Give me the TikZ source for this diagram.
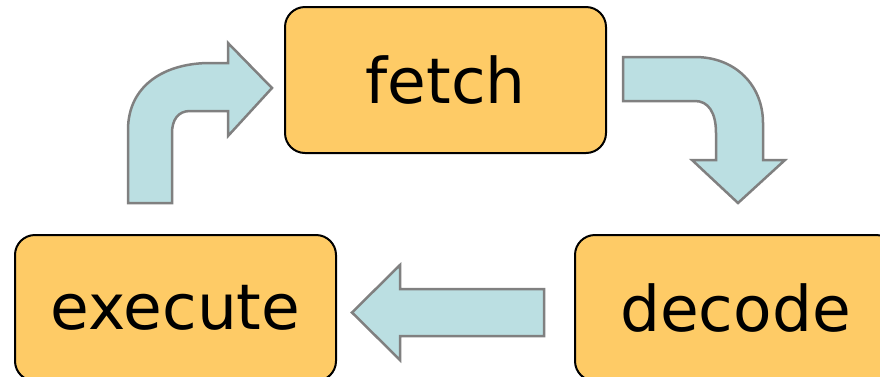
\documentclass[tikz,border=0pt]{standalone}
\usepackage{fontspec}
\setmainfont{DejaVu Sans}
\usetikzlibrary{positioning}

\definecolor{stagefill}{HTML}{FECB66}
\definecolor{flowfill}{HTML}{BBDFE2}
\definecolor{flowline}{HTML}{808080}

\tikzset{
    stage/.style={rectangle, rounded corners = 20, draw = black, line width = 2,
        fill = stagefill, minimum width = 321, minimum height = 146, inner sep = 0,
        font = \fontsize{63}{63}\selectfont},
    flow/.style={fill = flowfill, draw = flowline, line width = 2.5, line join = miter},
}

\begin{document}
\begin{tikzpicture}[
    x = 1pt, y = -1pt,
    ]

    % Determines the boundries
    \useasboundingbox (0,0) rectangle (880,376);

    % The three stages of the cycle
    \node[stage] (fetch)   at (445.5, 80) {fetch};
    \node[stage] (execute) at (175.5,308) {execute};
    \node[stage] (decode)  at (735.5,308) {decode};

    % Arrow fetch -> decode (bends down)
    \draw[flow] (623,57) -- (695,57) .. controls (735,57) and (763,85) .. (763,123)
        -- (763,160) -- (785,160) -- (738,203) -- (692,160) -- (716,160) -- (716,133)
        .. controls (716,112) and (708,101) .. (695,101) -- (623,101) -- cycle;

    % Arrow decode -> execute (straight)
    \draw[flow] (544,289) -- (400,289) -- (400,265) -- (352,312.5)
        -- (400,360) -- (400,336) -- (544,336) -- cycle;

    % Arrow execute -> fetch (bends right)
    \draw[flow] (128,203) -- (128,130) .. controls (128,85) and (165,63) .. (210,63)
        -- (228,63) -- (228,43) -- (272,88) -- (228,136) -- (228,111) -- (190,111)
        .. controls (178,111) and (172,120) .. (172,133) -- (172,203) -- cycle;

\end{tikzpicture}
\end{document}
